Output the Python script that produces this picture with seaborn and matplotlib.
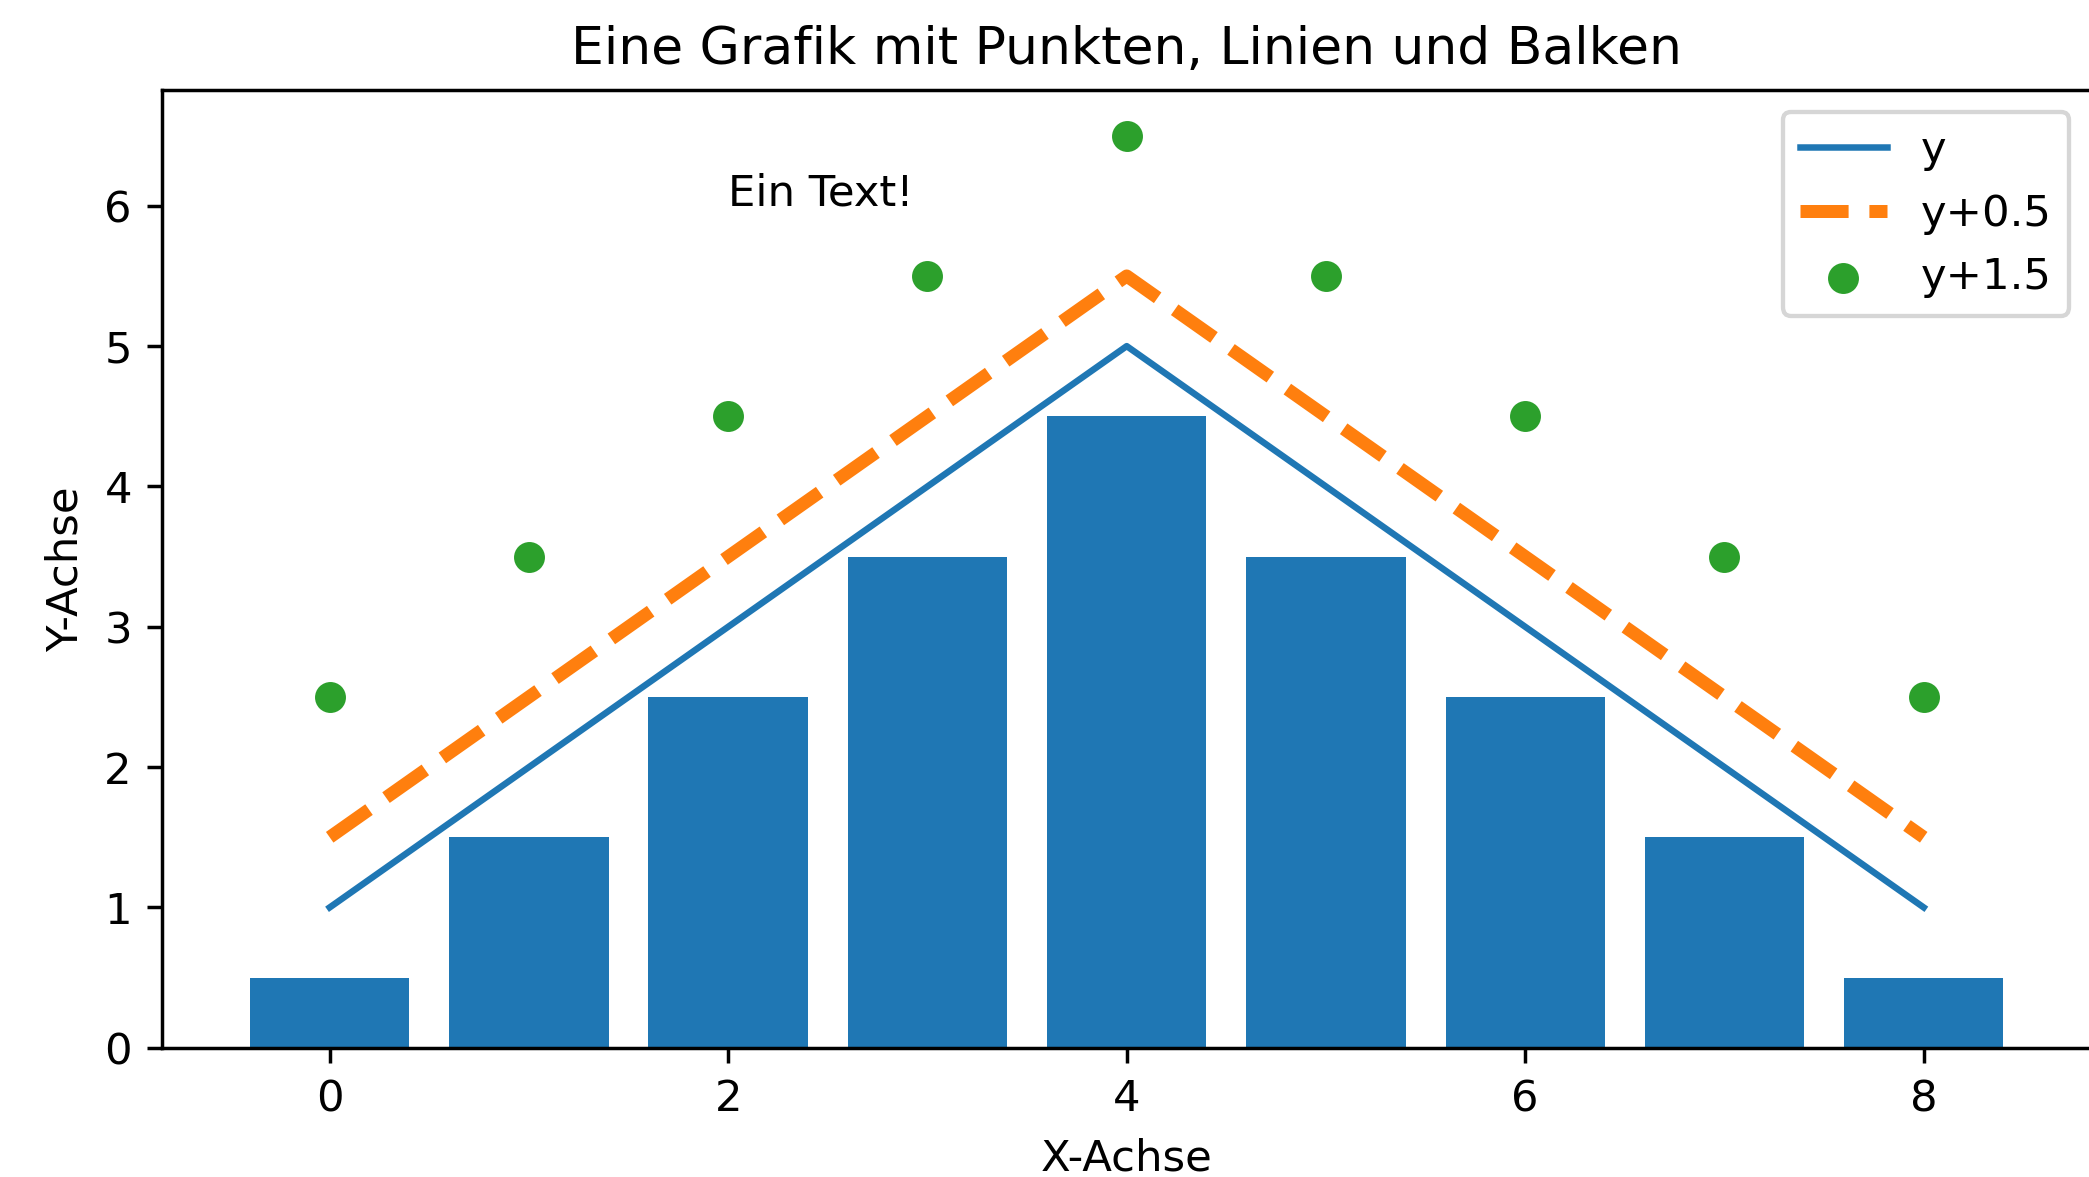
import numpy as np
import matplotlib
matplotlib.use("Agg")
import matplotlib.pyplot as plt
import seaborn as sns

# data
x = [0, 1, 2, 3, 4, 5, 6, 7, 8]
y = [1, 2, 3, 4, 5, 4, 3, 2, 1]
bar_heights = [0.5, 1.5, 2.5, 3.5, 4.5, 3.5, 2.5, 1.5, 0.5]
y_dashed = [1.5, 2.5, 3.5, 4.5, 5.5, 4.5, 3.5, 2.5, 1.5]
y_points = [2.5, 3.5, 4.5, 5.5, 6.5, 5.5, 4.5, 3.5, 2.5]

DPI = 312
fig = plt.figure(figsize=(2089 / DPI, 1177 / DPI), dpi=DPI)
# the original crop cuts the right spine just off the picture
ax = fig.add_axes([0.0777, 0.1098, 0.9233, 0.8137])

sns.barplot(x=x, y=bar_heights, native_scale=True, color="#1f77b4",
            saturation=1, width=0.8, errorbar=None, linewidth=0, ax=ax)
sns.lineplot(x=x, y=y, color="#1f77b4", linewidth=1.5, label="y", ax=ax)
sns.lineplot(x=x, y=y_dashed, color="#ff7f0e", linewidth=3, linestyle="--",
             label="y+0.5", ax=ax)
sns.scatterplot(x=x, y=y_points, color="#2ca02c", s=51, linewidth=0,
                label="y+1.5", ax=ax)

ax.text(2, 6, "Ein Text!", fontsize=10)
ax.set_title("Eine Grafik mit Punkten, Linien und Balken", fontsize=12)
ax.set_xlabel("X-Achse")
ax.set_ylabel("Y-Achse")
ax.legend(loc="upper right")

fig.savefig("out.png", dpi=DPI)
